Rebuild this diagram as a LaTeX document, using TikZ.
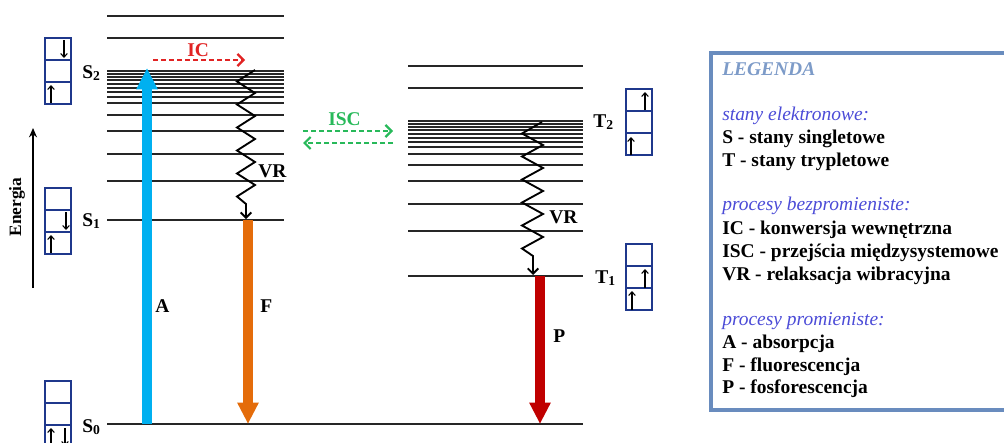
\documentclass[tikz,border=0pt]{standalone}
\usepackage{fontspec}
\setmainfont{Liberation Serif}
\usetikzlibrary{arrows.meta}
\definecolor{absblue}{RGB}{0,176,240}
\definecolor{fluorange}{RGB}{228,108,10}
\definecolor{phosred}{RGB}{192,0,0}
\definecolor{icred}{RGB}{225,35,35}
\definecolor{iscgreen}{RGB}{40,185,90}
\definecolor{orbnavy}{RGB}{31,56,140}
\definecolor{legframe}{RGB}{105,140,190}
\definecolor{legtitle}{RGB}{125,155,200}
\definecolor{leghead}{RGB}{75,75,215}
\tikzset{orbbox/.pic={\draw[draw=orbnavy,line width=1.2pt] (0,0) rectangle (26,66) (0,22) -- (26,22) (0,44) -- (26,44);}}

\begin{document}
\begin{tikzpicture}[x=0.75pt,y=-0.75pt,font=\fontsize{14.6}{17.25}\selectfont\bfseries,
  lvl/.style={line width=1pt,draw=black!85},
  rad/.style={line width=7.5pt,-{Triangle[width=15pt,length=16pt]}},
  nrad/.style={line width=1.7pt,dash pattern=on 3.75pt off 2.25pt,-{Straight Barb[length=4.5pt,width=9pt]}},
  vr/.style={line width=1.4pt,line join=miter,-{Straight Barb[length=4pt,width=8pt]}},
  spin/.style={line width=0.8pt,-{Straight Barb[length=2.8pt,width=5pt]}},
  lab/.style={inner sep=0pt,anchor=base west}]
\useasboundingbox (0,0) rectangle (1004,443);

% poziomy energetyczne
\foreach \y in {16,38,71,74,77,80,84,88,92,97,103,115,131,154,181}
  \draw[lvl] (107,\y) -- (284,\y);
\foreach \y in {66,88,121,124,127,130,134,138,142,147,154,165,181,204,231}
  \draw[lvl] (408,\y) -- (583,\y);
\draw[lvl,line width=1.3pt] (107,220) -- (284,220);
\draw[lvl,line width=1.3pt] (408,276) -- (583,276);
\draw[lvl,line width=1.3pt] (107,424) -- (583,424);

% przejscia promieniste
\coordinate (a0) at (147,424); \coordinate (a1) at (147,68);
\coordinate (f1) at (248,220); \coordinate (f0) at (248,424);
\coordinate (p1) at (540,276); \coordinate (p0) at (540,424);
\draw[rad,absblue] (a0) -- (a1);
\draw[rad,fluorange] (f1) -- (f0);
\draw[rad,phosred] (p1) -- (p0);

% relaksacja wibracyjna
\draw[vr] (255,70) \foreach \k in {1,...,11} {-- ({ifthenelse(isodd(\k),237,255)},{70+11.5*\k})} -- (246,204) -- (246,219);
\draw[vr] (542,122) \foreach \k in {1,...,11} {-- ({ifthenelse(isodd(\k),522,543)},{122+11.5*\k})} -- (533,256) -- (533,275);

% IC i ISC
\coordinate (ic0) at (153,60); \coordinate (ic1) at (245,60);
\coordinate (isc0) at (303,131); \coordinate (isc1) at (393,131);
\coordinate (isc2) at (393,143); \coordinate (isc3) at (303,143);
\draw[nrad,icred] (ic0) -- (ic1);
\draw[nrad,iscgreen] (isc0) -- (isc1);
\draw[nrad,iscgreen] (isc2) -- (isc3);

% orbitale
\pic (s2box) at (45,38) {orbbox};
\pic (s1box) at (45,188) {orbbox};
\pic (s0box) at (45,381) {orbbox};
\pic (t2box) at (626,89) {orbbox};
\pic (t1box) at (626,244) {orbbox};
\draw[spin] (64,40) -- (64,58);
\draw[spin] (51,103) -- (51,85);
\draw[spin] (66,212) -- (66,230);
\draw[spin] (51,253) -- (51,235);
\draw[spin] (51,446) -- (51,428);
\draw[spin] (65,428) -- (65,446);
\draw[spin] (645,110) -- (645,92);
\draw[spin] (631,155) -- (631,137);
\draw[spin] (645,288) -- (645,269);
\draw[spin] (632,310) -- (632,291);

% opisy
\node[lab] (s2) at (82,78) {S\textsubscript{2}};
\node[lab] (s1) at (82,226) {S\textsubscript{1}};
\node[lab] (s0) at (82,432) {S\textsubscript{0}};
\node[lab] (t2) at (593,127) {T\textsubscript{2}};
\node[lab] (t1) at (595,283) {T\textsubscript{1}};
\node[lab] (la) at (155,312) {A};
\node[lab] (lf) at (260,312) {F};
\node[lab] (lp) at (553,342) {P};
\node[lab] (vr1) at (258,177) {VR};
\node[lab] (vr2) at (549,223) {VR};
\node[lab,icred] (ic) at (187,56) {IC};
\node[lab,iscgreen] (isc) at (328,125) {ISC};

% os energii
\coordinate (e0) at (33,288); \coordinate (e1) at (33,128);
\draw[line width=1.1pt,-{Stealth[length=7pt,width=6pt]}] (e0) -- (e1);
\node[rotate=90,inner sep=0pt,font=\fontsize{13}{15}\selectfont\bfseries] (en) at (17,207) {Energia};

% legenda
\draw[line width=2.4pt,legframe] (711,53) rectangle (1012,410);
\node[lab,legtitle] (lg0) at (722,75) {\itshape LEGENDA};
\node[lab,leghead] (lg1) at (722,120) {\itshape\mdseries stany elektronowe:};
\node[lab] (lg2) at (722,143) {S - stany singletowe};
\node[lab] (lg3) at (722,166) {T - stany trypletowe};
\node[lab,leghead] (lg4) at (722,210) {\itshape\mdseries procesy bezpromieniste:};
\node[lab] (lg5) at (722,234) {IC - konwersja wewnętrzna};
\node[lab] (lg6) at (722,257) {ISC - przejścia międzysystemowe};
\node[lab] (lg7) at (722,280) {VR - relaksacja wibracyjna};
\node[lab,leghead] (lg8) at (722,325) {\itshape\mdseries procesy promieniste:};
\node[lab] (lg9) at (722,348) {A - absorpcja};
\node[lab] (lg10) at (722,371) {F - fluorescencja};
\node[lab] (lg11) at (722,393) {P - fosforescencja};
\end{tikzpicture}
\end{document}
